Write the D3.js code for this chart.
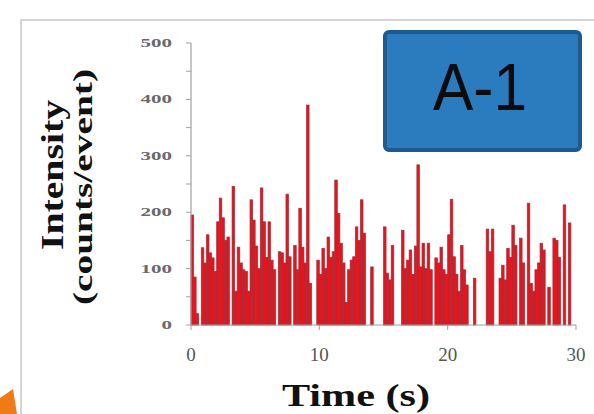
<!DOCTYPE html>
<html>
<head>
<meta charset="utf-8">
<script src="https://cdn.jsdelivr.net/npm/d3@7"></script>
<style>
  html, body { margin: 0; padding: 0; background: #fff; }
  svg { display: block; }
</style>
</head>
<body>
<svg id="chart" width="594" height="414"></svg>
<script>
// 0.2 s bins (counts/event)
const binWidth = 0.2;
const intensity = [
  195, 85, 20, 0, 137, 110, 160, 128, 119, 95,
  183, 225, 190, 150, 156, 0, 246, 60, 138, 110,
  98, 95, 60, 222, 186, 140, 100, 243, 183, 120,
  183, 115, 98, 0, 130, 128, 110, 232, 121, 0,
  141, 98, 207, 138, 110, 390, 74, 0, 0, 115,
  90, 136, 100, 156, 120, 130, 257, 198, 145, 110,
  40, 98, 115, 121, 174, 150, 222, 163, 0, 0,
  103, 0, 0, 0, 0, 174, 92, 80, 141, 0,
  0, 0, 168, 100, 115, 133, 90, 140, 284, 103,
  145, 100, 145, 98, 0, 119, 110, 138, 98, 90,
  160, 223, 121, 90, 60, 141, 98, 71, 0, 0,
  83, 0, 0, 0, 0, 170, 130, 170, 0, 0,
  83, 106, 80, 136, 120, 177, 141, 0, 154, 110,
  0, 216, 74, 60, 98, 110, 145, 133, 0, 67,
  0, 154, 150, 120, 0, 213, 0, 181, 0, 0
];
const xTicks = [0, 10, 20, 30];
const yTicks = [0, 100, 200, 300, 400, 500];
const yMinorTicks = [0, 50, 100, 150, 200, 250, 300, 350, 400, 450, 500];
const panelLabel = "A-1";

const svg = d3.select("#chart");

// 바깥 프레임
svg.append("rect")
  .attr("x", 21).attr("y", 20)
  .attr("width", 600).attr("height", 420)
  .attr("fill", "#fff")
  .attr("stroke", "#d4d4d4")
  .attr("stroke-width", 2);

// orange corner piece
svg.append("polygon")
  .attr("points", "0,398 13,389 17,414 0,414")
  .attr("fill", "#f07a16");

const x = d3.scaleLinear().domain([0, 30]).range([191, 576]);
const y = d3.scaleLinear().domain([0, 500]).range([325, 43]);

// bars
svg.append("g")
  .selectAll("rect")
  .data(intensity)
  .join("rect")
  .attr("x", (d, i) => x(i * binWidth))
  .attr("width", x(binWidth) - x(0))
  .attr("y", d => y(d))
  .attr("height", d => y(0) - y(d))
  .attr("fill", "#e3161e")
  .attr("stroke", d => d > 0 ? "#a82a36" : "none")
  .attr("stroke-width", 0.7);

// y axis
const yAxis = svg.append("g").attr("transform", `translate(${x(0)},0)`);
yAxis.append("line")
  .attr("y1", y(0)).attr("y2", y(500))
  .attr("stroke", "#a0a0a0").attr("stroke-width", 1.2);
yAxis.selectAll(".tk")
  .data(yMinorTicks)
  .join("line")
  .attr("class", "tk")
  .attr("x1", -5).attr("x2", 0)
  .attr("y1", d => y(d)).attr("y2", d => y(d))
  .attr("stroke", "#a0a0a0").attr("stroke-width", 1);
yAxis.selectAll("text")
  .data(yTicks)
  .join("text")
  .attr("x", -19)
  .attr("y", d => y(d) + 4)
  .attr("text-anchor", "end")
  .attr("font-family", "Liberation Serif, serif")
  .attr("font-weight", "bold")
  .attr("font-size", 13)
  .attr("fill", "#6a6a6a")
  .attr("textLength", d => String(d).length * 10.5)
  .attr("lengthAdjust", "spacingAndGlyphs")
  .text(d => d);

// x axis
const xAxis = svg.append("g");
xAxis.append("line")
  .attr("x1", x(0)).attr("x2", x(30))
  .attr("y1", y(0)).attr("y2", y(0))
  .attr("stroke", "#a0a0a0").attr("stroke-width", 1.2);
xAxis.selectAll(".tk")
  .data(xTicks)
  .join("line")
  .attr("class", "tk")
  .attr("x1", d => x(d)).attr("x2", d => x(d))
  .attr("y1", y(0)).attr("y2", y(0) + 5)
  .attr("stroke", "#a0a0a0").attr("stroke-width", 1);
xAxis.selectAll("text")
  .data(xTicks)
  .join("text")
  .attr("x", d => x(d))
  .attr("y", 361)
  .attr("text-anchor", "middle")
  .attr("font-family", "Liberation Serif, serif")
  .attr("font-size", 19)
  .attr("fill", "#555")
  .text(d => d);

// axis titles
svg.append("text")
  .attr("x", 356).attr("y", 406)
  .attr("text-anchor", "middle")
  .attr("font-family", "Liberation Serif, serif")
  .attr("font-weight", "bold")
  .attr("font-size", 32)
  .attr("fill", "#111")
  .attr("textLength", 148)
  .attr("lengthAdjust", "spacingAndGlyphs")
  .text("Time (s)");

svg.append("text")
  .attr("transform", "translate(63,175) rotate(-90)")
  .attr("text-anchor", "middle")
  .attr("font-family", "Liberation Serif, serif")
  .attr("font-weight", "bold")
  .attr("font-size", 32)
  .attr("fill", "#111")
  .attr("textLength", 150)
  .attr("lengthAdjust", "spacingAndGlyphs")
  .text("Intensity");

svg.append("text")
  .attr("transform", "translate(92,187) rotate(-90)")
  .attr("text-anchor", "middle")
  .attr("font-family", "Liberation Serif, serif")
  .attr("font-weight", "bold")
  .attr("font-size", 27)
  .attr("fill", "#111")
  .attr("textLength", 236)
  .attr("lengthAdjust", "spacingAndGlyphs")
  .text("(counts/event)");

// panel label box
svg.append("rect")
  .attr("x", 385).attr("y", 32)
  .attr("width", 195).attr("height", 118)
  .attr("rx", 4)
  .attr("fill", "#2b7bbf")
  .attr("stroke", "#1d5a8d")
  .attr("stroke-width", 4);
svg.append("text")
  .attr("x", 480).attr("y", 110)
  .attr("text-anchor", "middle")
  .attr("font-family", "Liberation Sans, Arial, sans-serif")
  .attr("font-size", 66)
  .attr("fill", "#0c0c0c")
  .attr("textLength", 94)
  .attr("lengthAdjust", "spacingAndGlyphs")
  .text(panelLabel);
</script>
</body>
</html>
